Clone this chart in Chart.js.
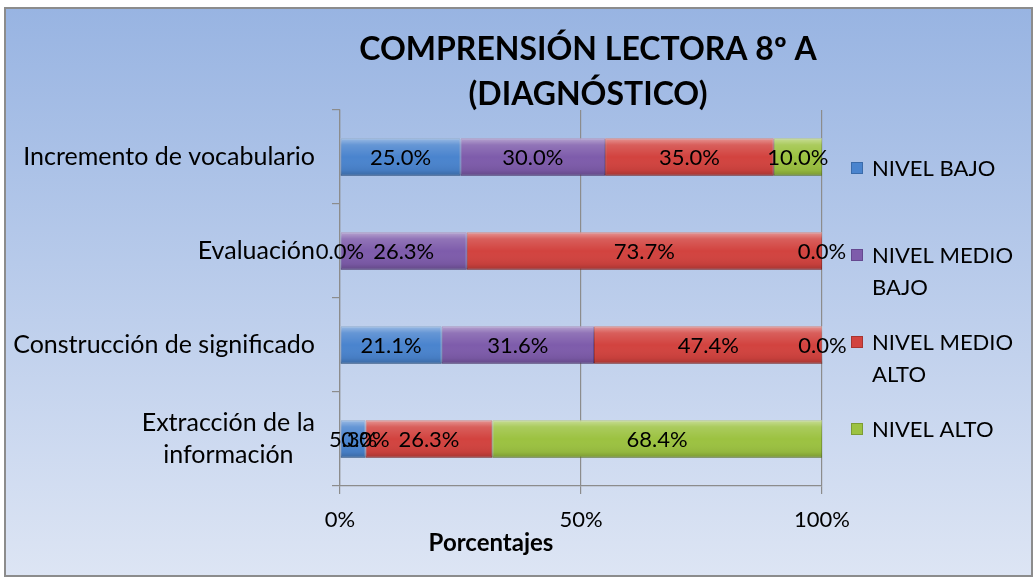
<!DOCTYPE html>
<html><head><meta charset="utf-8">
<script src="https://cdn.jsdelivr.net/npm/chart.js@4/dist/chart.umd.min.js"></script>
<style>html,body{margin:0;padding:0;background:#fff}#w{width:1036px;height:577px}</style>
</head><body><div id="w"><canvas id="c" width="1036" height="577"></canvas></div>
<script>
const categories = ["Incremento de vocabulario", "Evaluación", "Construcción de significado", ["Extracción de la", "información"]];
const seriesNames = ["NIVEL BAJO", ["NIVEL MEDIO", "BAJO"], ["NIVEL MEDIO", "ALTO"], "NIVEL ALTO"];
const nivelBajo = [25.0, 0.0, 21.1, 5.3];
const nivelMedioBajo = [30.0, 26.3, 31.6, 0.0];
const nivelMedioAlto = [35.0, 73.7, 47.4, 26.3];
const nivelAlto = [10.0, 0.0, 0.0, 68.4];
const xTicks = [0, 50, 100];
const titleLines = ["COMPRENSIÓN LECTORA 8º A", "(DIAGNÓSTICO)"];
const xTitle = "Porcentajes";

const colors = ["#4A84CE", "#7E5CAB", "#D2433F", "#9CC241"];
const borders = ["#3A6BAA", "#654890", "#A83430", "#7C9C33"];
const FONT = "Lato, 'Open Sans', sans-serif";

const deco = {
  id: 'deco',
  beforeDraw(chart) {
    const c = chart.ctx;
    c.save();
    c.fillStyle = '#fff';
    c.fillRect(0, 0, chart.width, chart.height);
    const g = c.createLinearGradient(0, 8, 0, 576);
    g.addColorStop(0, '#98B4E2');
    g.addColorStop(1, '#DDE5F4');
    c.fillStyle = g;
    c.fillRect(5, 8, 1027, 568);
    c.strokeStyle = '#8C8C8C';
    c.lineWidth = 2;
    c.strokeRect(5, 8, 1027, 568);
    c.restore();
  },
  afterDatasetsDraw(chart) {
    const c = chart.ctx;
    c.save();
    // bevel overlay
    chart.data.datasets.forEach((ds, i) => {
      const meta = chart.getDatasetMeta(i);
      meta.data.forEach((el) => {
        const p = el.getProps(['x', 'y', 'base', 'height'], true);
        const l = Math.min(p.x, p.base), r = Math.max(p.x, p.base);
        if (r - l < 0.5) return;
        const t = p.y - p.height / 2, h = p.height;
        const g = c.createLinearGradient(0, t, 0, t + h);
        g.addColorStop(0, 'rgba(255,255,255,0.45)');
        g.addColorStop(0.18, 'rgba(255,255,255,0.15)');
        g.addColorStop(0.5, 'rgba(255,255,255,0)');
        g.addColorStop(0.85, 'rgba(0,0,0,0.06)');
        g.addColorStop(1, 'rgba(0,0,0,0.22)');
        c.fillStyle = g;
        c.fillRect(l, t, r - l, h);
      });
    });
    // data labels
    c.fillStyle = '#000';
    c.font = '22px ' + FONT;
    c.textAlign = 'center';
    c.textBaseline = 'middle';
    chart.data.datasets.forEach((ds, i) => {
      const meta = chart.getDatasetMeta(i);
      meta.data.forEach((el, j) => {
        const p = el.getProps(['x', 'y', 'base'], true);
        c.fillText(ds.data[j].toFixed(1) + '%', (p.x + p.base) / 2, p.y + 1);
      });
    });
    c.restore();
  },
  afterDraw(chart) {
    const c = chart.ctx;
    c.save();
    // y category labels (multi-line centered)
    const ys = chart.scales.y;
    c.fillStyle = '#000';
    c.font = '25px ' + FONT;
    c.textBaseline = 'middle';
    c.textAlign = 'center';
    categories.forEach((lab, i) => {
      const lines = Array.isArray(lab) ? lab : [lab];
      const w = Math.max(...lines.map(l => c.measureText(l).width));
      const cx = 315 - w / 2;
      const yc = ys.getPixelForValue(i);
      const lh = 32;
      lines.forEach((l, k) => c.fillText(l, cx, yc + (k - (lines.length - 1) / 2) * lh));
    });
    // title
    c.font = 'bold 32px ' + FONT;
    titleLines.forEach((t, i) => c.fillText(t, 588, 50 + i * 45));
    // x title
    c.font = 'bold 24px ' + FONT;
    c.fillText(xTitle, 491, 543);
    // legend
    c.font = '22px ' + FONT;
    c.textAlign = 'left';
    const ly = [168, 255, 342, 429];
    seriesNames.forEach((n, i) => {
      const y = ly[i];
      c.fillStyle = colors[i];
      c.fillRect(851, y - 6, 12, 12);
      c.strokeStyle = borders[i];
      c.lineWidth = 1;
      c.strokeRect(851.5, y - 5.5, 11, 11);
      c.fillStyle = '#000';
      const lines = Array.isArray(n) ? n : [n];
      lines.forEach((ln, k) => c.fillText(ln, 872, y + 1 + k * 32));
    });
    c.restore();
  }
};

const datasets = [nivelBajo, nivelMedioBajo, nivelMedioAlto, nivelAlto].map((d, i) => ({
  label: Array.isArray(seriesNames[i]) ? seriesNames[i].join(' ') : seriesNames[i],
  data: d,
  backgroundColor: colors[i],
  borderColor: borders[i],
  borderWidth: 1,
  borderSkipped: false,
  categoryPercentage: 1,
  barPercentage: 0.4
}));

new Chart(document.getElementById('c'), {
  type: 'bar',
  data: { labels: categories, datasets },
  options: {
    indexAxis: 'y',
    responsive: false,
    animation: false,
    devicePixelRatio: 1,
    layout: { padding: { left: 10, right: 214, top: 110, bottom: 41 } },
    plugins: { legend: { display: false }, title: { display: false }, tooltip: { enabled: false } },
    scales: {
      x: {
        stacked: true, min: 0, max: 100,
        afterBuildTicks(s) { s.ticks = xTicks.map(v => ({ value: v })); },
        afterFit(s) { s.height = 50; },
        ticks: { callback: v => v + '%', color: '#000', font: { family: FONT, size: 22 }, padding: 13, maxRotation: 0 },
        grid: { color: '#8C8C8C', lineWidth: 1.2, tickLength: 8, drawTicks: true },
        border: { display: true, color: '#8C8C8C', width: 1.2 }
      },
      y: {
        stacked: true,
        afterFit(s) { s.width = 330; },
        ticks: { display: false },
        grid: { offset: true, drawOnChartArea: false, color: '#8C8C8C', lineWidth: 1.2, tickLength: 8 },
        border: { display: true, color: '#8C8C8C', width: 1.2 }
      }
    }
  },
  plugins: [deco]
});
</script></body></html>
